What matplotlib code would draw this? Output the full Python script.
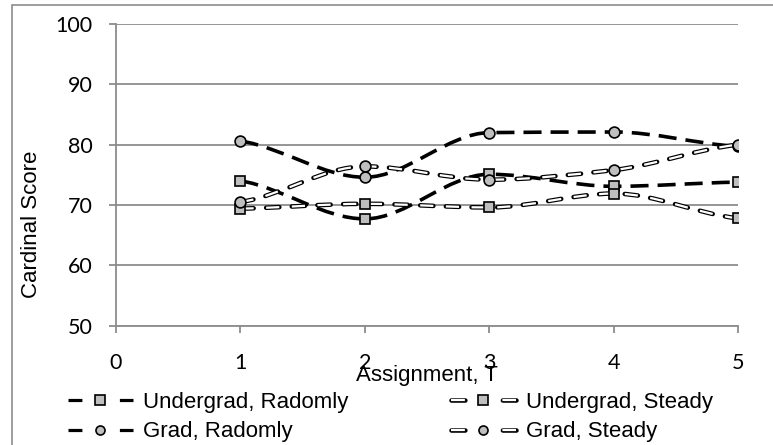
import numpy as np
import matplotlib
matplotlib.use("Agg")
import matplotlib.pyplot as plt
import matplotlib.patheffects as pe
from matplotlib.path import Path
from matplotlib.patches import PathPatch, Rectangle
from matplotlib.lines import Line2D
from matplotlib.legend_handler import HandlerTuple

# data
assignments = [1, 2, 3, 4, 5]
ug_random = [74.0, 67.7, 75.1, 73.1, 73.8]
ug_steady = [69.4, 70.2, 69.6, 71.9, 67.8]
gr_random = [80.6, 74.6, 82.0, 82.1, 79.7]
gr_steady = [70.5, 76.4, 74.2, 75.8, 80.0]
labels = ["Undergrad, Radomly", "Undergrad, Steady", "Grad, Radomly", "Grad, Steady"]
x_ticks = [0, 1, 2, 3, 4, 5]
y_ticks = [50, 60, 70, 80, 90, 100]

plt.rcParams["lines.scale_dashes"] = False
narrow = ["Liberation Sans Narrow", "Liberation Sans", "DejaVu Sans"]
grey = "#8c8c8c"
fill = "#bfbfbf"


def smooth_path(xs, ys):
    # smoothed line drawn as cubic bezier segments through the points
    # (monotone slopes, so flat stretches stay flat like in the excel chart)
    x = np.asarray(xs, float)
    y = np.asarray(ys, float)
    h = np.diff(x)
    d = np.diff(y) / h
    m = np.zeros_like(y)
    for i in range(1, len(y) - 1):
        if d[i - 1] * d[i] > 0:
            m[i] = 2 / (1 / d[i - 1] + 1 / d[i])
    m[0] = d[0] / 2
    m[-1] = d[-1] / 2
    verts = [(x[0], y[0])]
    codes = [Path.MOVETO]
    for i in range(len(x) - 1):
        verts += [(x[i] + h[i] / 3, y[i] + m[i] * h[i] / 3),
                  (x[i + 1] - h[i] / 3, y[i + 1] - m[i + 1] * h[i] / 3),
                  (x[i + 1], y[i + 1])]
        codes += [Path.CURVE4] * 3
    return Path(verts, codes)


W, H = 773, 445
fig = plt.figure(figsize=(W / 100, H / 100), dpi=100)
ax = fig.add_axes([116 / W, 1 - 325.7 / H, (738.3 - 116) / W, (325.7 - 24) / H])

# chart border
fig.add_artist(Rectangle((12 / W, -0.1), 1.0, 1.1 - 5 / H, transform=fig.transFigure,
                         fill=False, edgecolor=grey, lw=1.2))

hollow_fx = [pe.Stroke(linewidth=3.3, foreground="black", capstyle="round"), pe.Normal()]

for ys in (ug_random, gr_random):
    ax.add_patch(PathPatch(smooth_path(assignments, ys), fill=False, edgecolor="black",
                           lw=2.6, linestyle=(0, (13, 6.5)), capstyle="butt", zorder=3))
for ys in (ug_steady, gr_steady):
    ax.add_patch(PathPatch(smooth_path(assignments, ys), fill=False, edgecolor="white",
                           lw=1.6, linestyle=(0, (9.5, 9)), capstyle="butt",
                           path_effects=hollow_fx, zorder=3))

for ys, mk in ((ug_random, "s"), (ug_steady, "s"), (gr_random, "o"), (gr_steady, "o")):
    ax.plot(assignments, ys, ls="none", marker=mk, ms=7.8, mfc=fill, mec="black",
            mew=1.2, zorder=4)

ax.set_xlim(0, 5)
ax.set_ylim(50, 100)
ax.set_xticks(x_ticks)
ax.set_yticks(y_ticks)
ax.grid(axis="y", color=grey, lw=1.3)
ax.set_axisbelow(True)
for s in ("top", "right"):
    ax.spines[s].set_visible(False)
for s in ("left", "bottom"):
    ax.spines[s].set_color(grey)
    ax.spines[s].set_linewidth(1.3)
ax.tick_params(colors=grey, width=1.3, length=5, labelcolor="black")
ax.tick_params(axis="y", pad=12)
ax.tick_params(axis="x", pad=15)
for t in ax.get_xticklabels() + ax.get_yticklabels():
    t.set_fontfamily("Lato")
    t.set_fontsize(15.5)

fig.text(427 / W, 1 - 376 / H, "Assignment, T", ha="center", va="center",
         family=narrow, fontsize=16)
fig.text(32 / W, 1 - 224 / H, "Cardinal Score", ha="center", va="center",
         rotation=90, family=narrow, fontsize=16)


# legend: two separate columns
def proxy(hollow, mk):
    if hollow:
        ln = Line2D([], [], color="white", lw=1.6, dashes=(10, 27), path_effects=hollow_fx)
    else:
        ln = Line2D([], [], color="black", lw=2.3, dashes=(10, 27))
    m = Line2D([], [], ls="none", marker=mk, ms=6.5, mfc=fill, mec="black", mew=1.2)
    return (ln, m)


columns = [
    (67.7, [proxy(False, "s"), proxy(False, "o")], [labels[0], labels[2]]),
    (450.7, [proxy(True, "s"), proxy(True, "o")], [labels[1], labels[3]]),
]
for x0, hs, ls in columns:
    fig.legend(hs, ls, loc="center left", bbox_to_anchor=(x0 / W, 1 - 417 / H),
               frameon=False, borderpad=0, borderaxespad=0, handlelength=2.95,
               handletextpad=0.45, labelspacing=0.4,
               prop={"family": narrow, "size": 16},
               handler_map={tuple: HandlerTuple(ndivide=1, pad=0)})

fig.savefig("out.png", dpi=100)
